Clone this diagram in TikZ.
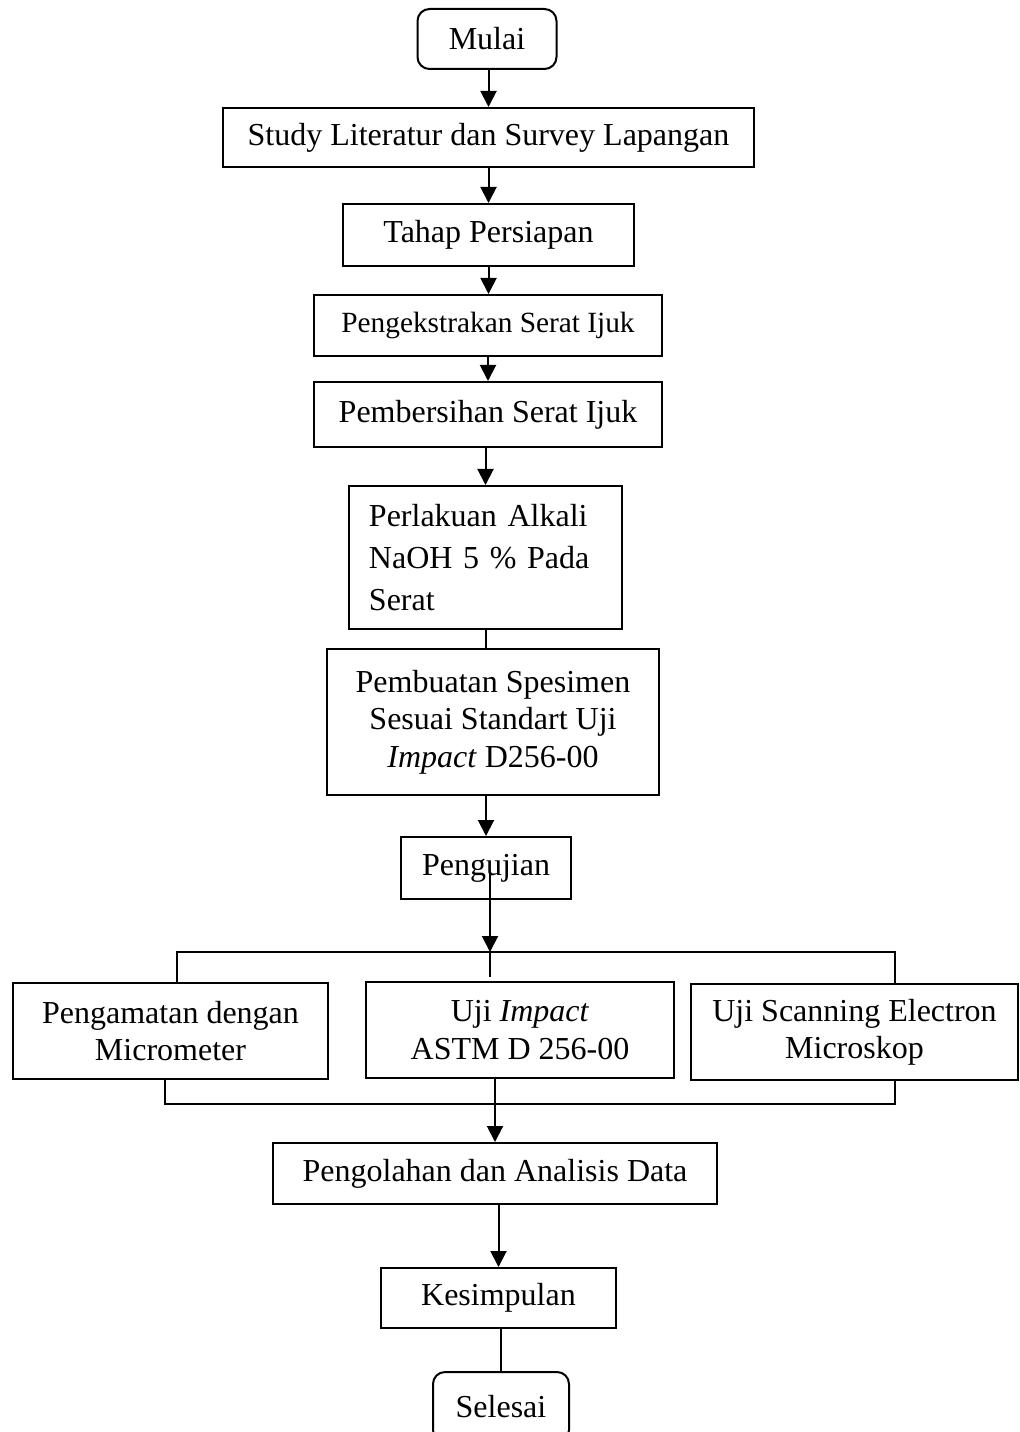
\documentclass[tikz,border=0pt]{standalone}
\usepackage{fontspec}
\setmainfont{Liberation Serif}
\usepackage{tikz}
\usetikzlibrary{arrows.meta,positioning,calc}

\begin{document}
\begin{tikzpicture}[x=0.375pt, y=-0.375pt,
    box/.style 2 args={draw, line width=0.75pt, align=center, inner sep=0pt,
        minimum width=#1*0.375pt, minimum height=#2*0.375pt,
        font=\fontsize{12}{14}\selectfont},
    rbox/.style 2 args={box={#1}{#2}, rounded corners=4.5pt},
    arr/.style={line width=0.75pt, -{Triangle[width=6pt,length=6pt]}},
    ln/.style={line width=0.75pt}]
    \useasboundingbox (0,0) rectangle (1019,1432);

    % Main flow
    \node[rbox={139}{60}] (mulai) at (487,39) {Mulai};
    \node[box={531}{59}] (study) at (488.5,137.5) {Study Literatur dan Survey Lapangan};
    \node[box={291}{62}] (tahap) at (488.5,235) {Tahap Persiapan};
    \node[box={348}{61}, font=\fontsize{11}{13}\selectfont] (ekstrak) at (488,325.5) {Pengekstrakan Serat Ijuk};
    \node[box={348}{65}] (bersih) at (488,414.5) {Pembersihan Serat Ijuk};
    \node[box={273}{143}, align=left, text width=87.4pt, inner xsep=7.5pt,
        font=\fontsize{12}{15.6}\selectfont] (alkali) at (485.5,557.5)
        {Perlakuan Alkali\\NaOH 5 \% Pada\\Serat};
    \node[box={332}{146}] (spesimen) at (493,722) {Pembuatan Spesimen\\Sesuai Standart Uji\\\textit{Impact} D256-00};
    \node[box={170}{62}] (uji) at (486,868) {Pengujian};

    % Three tests
    \node[box={315}{96}] (mikro) at (170.5,1031) {Pengamatan dengan\\Micrometer};
    \node[box={308}{96}] (impact) at (520,1030) {Uji \textit{Impact}\\ASTM D 256-00};
    \node[box={327}{96}] (sem) at (854.5,1032) {Uji Scanning Electron\\Microskop};

    % End of flow
    \node[box={444}{61}] (olah) at (495,1173.5) {Pengolahan dan Analisis Data};
    \node[box={235}{60}] (simpul) at (498.5,1298) {Kesimpulan};
    \node[rbox={136}{70}] (selesai) at (501,1407) {Selesai};

    % Junctions
    \coordinate (split) at (490,952);
    \coordinate (ltop) at (177,952);
    \coordinate (rtop) at (895,952);
    \coordinate (lbot) at (165,1104);
    \coordinate (rbot) at (895,1104);

    % Arrows
    \draw[arr] (mulai.south -| study.north) -- (study.north);
    \draw[arr] (study.south) -- (study.south |- tahap.north);
    \draw[arr] (tahap.south) -- (tahap.south |- ekstrak.north);
    \draw[arr] (ekstrak.south) -- (ekstrak.south |- bersih.north);
    \draw[arr] (alkali.north |- bersih.south) -- (alkali.north);
    \draw[ln] (alkali.south) -- (alkali.south |- spesimen.north);
    \draw[arr] (uji.north |- spesimen.south) -- (uji.north);
    \draw[arr] ([shift={(4,-26)}]uji.south) -- (split);

    % Branch and merge
    \draw[ln] (ltop |- mikro.north) -- (ltop) -- (rtop) -- (rtop |- sem.north);
    \draw[ln, shorten >=1.5pt] (split) -- (split |- impact.north);
    \draw[ln] (lbot |- mikro.south) -- (lbot) -- (rbot) -- (rbot |- sem.south);
    \draw[arr] (olah.north |- impact.south) -- (olah.north);
    \draw[arr] (simpul.north |- olah.south) -- (simpul.north);
    \draw[ln] (selesai.north |- simpul.south) -- (selesai.north);
\end{tikzpicture}
\end{document}
